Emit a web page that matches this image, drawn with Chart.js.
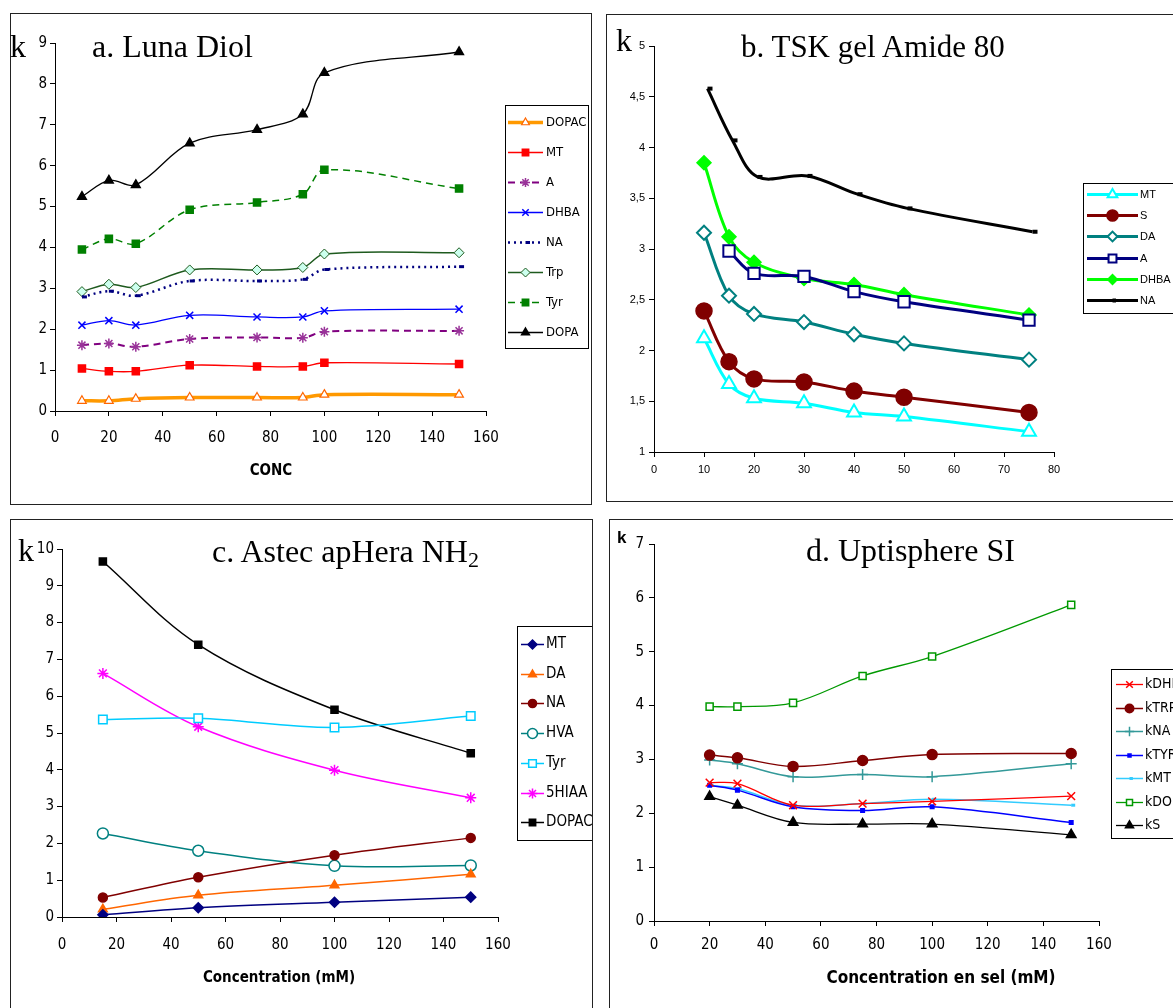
<!DOCTYPE html>
<html>
<head>
<meta charset="utf-8">
<script src="https://cdn.jsdelivr.net/npm/chart.js@4/dist/chart.umd.min.js"></script>
<style>
  body { margin: 0; width: 1173px; height: 1008px; overflow: hidden; background: #fff; position: relative; }
  .box { position: absolute; border: 1px solid #222; box-sizing: border-box; }
  canvas { position: absolute; }
  .serif { position: absolute; font-family: 'Liberation Serif', 'Times New Roman', serif; line-height: 1; white-space: nowrap; color: #000; }
  .axt { position: absolute; font-family: 'Liberation Sans Narrow', 'Arial Narrow', 'DejaVu Sans Condensed', sans-serif; font-weight: bold; line-height: 1; text-align: center; white-space: nowrap; color: #000; }
</style>
</head>
<body>
<div class="box" style="left:10px;top:13px;width:582px;height:492px"></div>
<div class="box" style="left:606px;top:14px;width:600px;height:488px"></div>
<div class="box" style="left:10px;top:519px;width:583px;height:600px"></div>
<div class="box" style="left:609px;top:519px;width:600px;height:600px"></div>

<canvas id="chA" width="579" height="489" style="left:11px;top:14px"></canvas>
<canvas id="chB" width="566" height="485" style="left:607px;top:15px"></canvas>
<canvas id="chC" width="581" height="488" style="left:11px;top:520px"></canvas>
<canvas id="chD" width="563" height="488" style="left:610px;top:520px"></canvas>

<div class="serif" style="left:10px;top:30px;font-size:32px">k</div>
<div class="serif" style="left:92px;top:30px;font-size:32px">a. Luna Diol</div>
<div class="serif" style="left:616px;top:24px;font-size:32px">k</div>
<div class="serif" style="left:741px;top:31px;font-size:31px">b. TSK gel Amide 80</div>
<div class="serif" style="left:18px;top:534px;font-size:32px">k</div>
<div class="serif" style="left:212px;top:535px;font-size:32px">c. Astec apHera NH<sub style="font-size:22px;vertical-align:-5px">2</sub></div>
<div style="position:absolute;left:617px;top:529px;font:bold 17px 'Liberation Sans',Arial,sans-serif;line-height:1">k</div>
<div class="serif" style="left:806px;top:534px;font-size:32px">d. Uptisphere SI</div>

<div class="axt" style="left:171px;width:200px;top:463px;font-size:15px">CONC</div>
<div class="axt" style="left:179px;width:200px;top:970px;font-size:15px">Concentration (mM)</div>
<div class="axt" style="left:791px;width:300px;top:969px;font-size:17px">Concentration en sel (mM)</div>

<script>
// a. Luna Diol
var concA = [10, 20, 30, 50, 75, 92, 100, 150];
var aDOPAC = [0.25, 0.25, 0.30, 0.33, 0.33, 0.33, 0.40, 0.40];
var aMT = [1.04, 0.97, 0.97, 1.12, 1.09, 1.09, 1.18, 1.15];
var aA = [1.61, 1.65, 1.57, 1.76, 1.80, 1.79, 1.94, 1.96];
var aDHBA = [2.10, 2.21, 2.10, 2.34, 2.30, 2.30, 2.45, 2.49];
var aNA = [2.79, 2.93, 2.82, 3.18, 3.18, 3.22, 3.46, 3.53];
var aTrp = [2.92, 3.10, 3.02, 3.45, 3.45, 3.51, 3.84, 3.87];
var aTyr = [3.95, 4.21, 4.09, 4.92, 5.10, 5.30, 5.90, 5.44];
var aDOPA = [5.24, 5.64, 5.53, 6.55, 6.88, 7.26, 8.27, 8.78];

// b. TSK gel Amide 80
var concB = [10, 15, 20, 30, 40, 50, 75];
var concBA = [15, 20, 30, 40, 50, 75];
var concBNA = [10.7, 15.7, 20.7, 30.7, 40.7, 50.7, 75.7];
var bMT = [2.12, 1.67, 1.53, 1.48, 1.39, 1.35, 1.20];
var bS = [2.39, 1.89, 1.72, 1.69, 1.60, 1.54, 1.39];
var bDA = [3.16, 2.54, 2.36, 2.28, 2.16, 2.07, 1.91];
var bA = [2.98, 2.76, 2.73, 2.58, 2.48, 2.30];
var bDHBA = [3.85, 3.12, 2.87, 2.71, 2.65, 2.55, 2.35];
var bNA = [4.58, 4.07, 3.71, 3.72, 3.54, 3.40, 3.17];

// c. Astec apHera NH2
var concC = [15, 50, 100, 150];
var cMT = [0.06, 0.25, 0.40, 0.54];
var cDA = [0.21, 0.59, 0.86, 1.16];
var cNA = [0.53, 1.08, 1.68, 2.15];
var cHVA = [2.27, 1.80, 1.39, 1.40];
var cTyr = [5.37, 5.40, 5.15, 5.46];
var c5HIAA = [6.62, 5.17, 3.99, 3.24];
var cDOPAC = [9.66, 7.40, 5.63, 4.45];

// d. Uptisphere SI
var concD = [20, 30, 50, 75, 100, 150];
var dDHBA = [2.57, 2.55, 2.15, 2.18, 2.22, 2.32];
var dTRP = [3.08, 3.03, 2.87, 2.98, 3.09, 3.11];
var dNA = [2.99, 2.92, 2.68, 2.72, 2.68, 2.92];
var dTYR = [2.52, 2.43, 2.12, 2.05, 2.12, 1.83];
var dMT = [2.52, 2.46, 2.15, 2.18, 2.26, 2.15];
var dDOPAC = [3.98, 3.98, 4.05, 4.55, 4.91, 5.87];
var dS = [2.31, 2.15, 1.83, 1.80, 1.80, 1.60];

var narrow = "'Liberation Sans Narrow', 'Arial Narrow', 'DejaVu Sans Condensed', sans-serif";
var sans = "'Liberation Sans', Arial, sans-serif";

// dessine la légende encadrée (trait + marqueur + texte)
var legendBox = {
    id: 'legendBox',
    afterDraw: function (chart, args, o) {
        var ctx = chart.ctx;
        ctx.save();
        ctx.fillStyle = '#fff';
        ctx.fillRect(o.x, o.y, o.w, o.h);
        ctx.strokeStyle = '#000';
        ctx.lineWidth = 1;
        ctx.strokeRect(o.x + 0.5, o.y + 0.5, o.w, o.h);
        chart.data.datasets.forEach(function (ds, i) {
            var cy = Math.round(o.y0 + i * o.step) + 0.5;
            ctx.strokeStyle = ds.borderColor;
            ctx.lineWidth = ds.borderWidth;
            ctx.setLineDash(ds.borderDash || []);
            ctx.beginPath();
            ctx.moveTo(o.lx0, cy);
            ctx.lineTo(o.lx1, cy);
            ctx.stroke();
            ctx.setLineDash([]);
            ctx.fillStyle = ds.pointBackgroundColor;
            ctx.strokeStyle = ds.pointBorderColor;
            ctx.lineWidth = ds.pointBorderWidth;
            Chart.helpers.drawPoint(ctx, {
                pointStyle: ds.pointStyle,
                radius: ds.pointRadius * o.ms,
                rotation: 0,
                borderWidth: ds.pointBorderWidth
            }, (o.lx0 + o.lx1) / 2, cy);
            ctx.fillStyle = '#000';
            ctx.font = o.font;
            ctx.textBaseline = 'middle';
            ctx.fillText(ds.label, o.tx, cy);
        });
        ctx.restore();
    }
};

function serie(label, xs, ys, st) {
    return {
        label: label,
        data: xs.map(function (x, i) { return { x: x, y: ys[i] }; }),
        borderColor: st.color,
        borderWidth: st.lw || 1.5,
        borderDash: st.dash || [],
        pointStyle: st.ps,
        pointRadius: st.r || 4,
        pointBorderColor: st.pc || st.color,
        pointBackgroundColor: st.fill || st.color,
        pointBorderWidth: st.pw || 1.5,
        tension: st.t === undefined ? 0.35 : st.t,
        fill: false
    };
}

function axe(min, max, step, pad, fontTick, fmt, forcedW, forcedH) {
    return {
        type: 'linear',
        min: min,
        max: max,
        grid: { display: true, drawOnChartArea: false, drawTicks: true, tickLength: 5, color: '#000' },
        border: { display: true, color: '#000', width: 1 },
        ticks: {
            stepSize: step,
            color: '#000',
            padding: pad,
            font: fontTick,
            maxRotation: 0,
            autoSkip: false,
            callback: fmt || function (v) { return v; }
        },
        afterFit: function (s) {
            if (forcedW) s.width = forcedW;
            if (forcedH) s.height = forcedH;
        }
    };
}

function creerGraphique(id, datasets, sc, padding, leg) {
    return new Chart(document.getElementById(id), {
        type: 'line',
        data: { datasets: datasets },
        plugins: [legendBox],
        options: {
            responsive: false,
            animation: false,
            events: [],
            layout: { padding: padding },
            plugins: {
                legend: { display: false },
                tooltip: { enabled: false },
                legendBox: leg
            },
            scales: sc
        }
    });
}

// a
creerGraphique('chA', [
    serie('DOPAC', concA, aDOPAC, { color: '#FF9900', lw: 3.5, ps: 'triangle', r: 5, fill: '#fff', pc: '#FF6600', pw: 1.2 }),
    serie('MT', concA, aMT, { color: '#FF0000', lw: 1.3, ps: 'rect', r: 5 }),
    serie('A', concA, aA, { color: '#800080', lw: 2, dash: [7, 5], ps: 'star', r: 5, pc: '#993399', fill: '#993399' }),
    serie('DHBA', concA, aDHBA, { color: '#0000FF', lw: 1.3, ps: 'crossRot', r: 5 }),
    serie('NA', concA, aNA, { color: '#000080', lw: 2.5, dash: [2, 4], ps: 'dash', r: 5, pw: 3 }),
    serie('Trp', concA, aTrp, { color: '#1E5A1E', lw: 1.5, ps: 'rectRot', r: 5, fill: '#CCFFEE', pw: 1 }),
    serie('Tyr', concA, aTyr, { color: '#008000', lw: 1.5, dash: [7, 5], ps: 'rect', r: 5 }),
    serie('DOPA', concA, aDOPA, { color: '#000000', lw: 1.3, ps: 'triangle', r: 5 })
], {
    x: axe(0, 160, 20, 13, { family: narrow, size: 15 }, null, null, 40),
    y: axe(0, 9, 1, 3, { family: narrow, size: 15 }, null, 30, null)
}, { left: 14, right: 104, top: 29, bottom: 52 }, {
    x: 494, y: 91, w: 83, h: 243, y0: 108, step: 30, lx0: 497, lx1: 532, tx: 535, ms: 0.9,
    font: '13px ' + narrow
});

// b
var virgule = function (v) { return String(v).replace('.', ','); };
creerGraphique('chB', [
    serie('MT', concB, bMT, { color: '#00FFFF', lw: 3, ps: 'triangle', r: 8, fill: '#fff', pw: 2 }),
    serie('S', concB, bS, { color: '#800000', lw: 3, ps: 'circle', r: 8 }),
    serie('DA', concB, bDA, { color: '#008080', lw: 3, ps: 'rectRot', r: 7, fill: '#fff', pw: 2 }),
    serie('A', concBA, bA, { color: '#000080', lw: 3, ps: 'rect', r: 8, fill: '#fff', pw: 2 }),
    serie('DHBA', concB, bDHBA, { color: '#00FF00', lw: 3, ps: 'rectRot', r: 7 }),
    serie('NA', concBNA, bNA, { color: '#000000', lw: 3, ps: 'dash', r: 5, pw: 4 })
], {
    x: axe(0, 80, 10, 6, { family: sans, size: 11 }, null, null, 25),
    y: axe(1, 5, 0.5, 4, { family: sans, size: 11 }, virgule, 30, null)
}, { left: 17, right: 119, top: 31, bottom: 23 }, {
    x: 476, y: 168, w: 100, h: 130, y0: 179, step: 21.2, lx0: 480, lx1: 531, tx: 533, ms: 0.7,
    font: '11px ' + sans
});

// c
creerGraphique('chC', [
    serie('MT', concC, cMT, { color: '#000080', ps: 'rectRot', r: 5 }),
    serie('DA', concC, cDA, { color: '#FF6600', ps: 'triangle', r: 5 }),
    serie('NA', concC, cNA, { color: '#800000', ps: 'circle', r: 4.5 }),
    serie('HVA', concC, cHVA, { color: '#008080', ps: 'circle', r: 5.5, fill: '#fff' }),
    serie('Tyr', concC, cTyr, { color: '#00CCFF', ps: 'rect', r: 6, fill: '#fff' }),
    serie('5HIAA', concC, c5HIAA, { color: '#FF00FF', ps: 'star', r: 5.5 }),
    serie('DOPAC', concC, cDOPAC, { color: '#000000', ps: 'rect', r: 5 })
], {
    x: axe(0, 160, 20, 14, { family: narrow, size: 15 }, null, null, 40),
    y: axe(0, 10, 1, 3, { family: narrow, size: 15 }, null, 30, null)
}, { left: 21, right: 94, top: 29, bottom: 51 }, {
    x: 506, y: 106, w: 100, h: 214, y0: 124, step: 29.7, lx0: 510, lx1: 533, tx: 535, ms: 0.9,
    font: '15px ' + narrow
});

// d
creerGraphique('chD', [
    serie('kDHBA', concD, dDHBA, { color: '#FF0000', lw: 1.3, ps: 'crossRot', r: 5.5 }),
    serie('kTRP', concD, dTRP, { color: '#800000', ps: 'circle', r: 5 }),
    serie('kNA', concD, dNA, { color: '#339999', ps: 'cross', r: 5.5 }),
    serie('kTYR', concD, dTYR, { color: '#0000FF', ps: 'rect', r: 2.5 }),
    serie('kMT', concD, dMT, { color: '#33CCFF', ps: 'dash', r: 4, pw: 3 }),
    serie('kDOPAC', concD, dDOPAC, { color: '#009900', lw: 1.3, ps: 'rect', r: 5, fill: '#fff', pc: '#009900' }),
    serie('kS', concD, dS, { color: '#000000', lw: 1.3, ps: 'triangle', r: 5.5 })
], {
    x: axe(0, 160, 20, 10, { family: narrow, size: 15 }, null, null, 40),
    y: axe(0, 7, 1, 5, { family: narrow, size: 15 }, null, 30, null)
}, { left: 14, right: 74, top: 24, bottom: 47 }, {
    x: 501, y: 149, w: 80, h: 169, y0: 164, step: 23.5, lx0: 506, lx1: 533, tx: 535, ms: 0.85,
    font: '14px ' + narrow
});
</script>
</body>
</html>
